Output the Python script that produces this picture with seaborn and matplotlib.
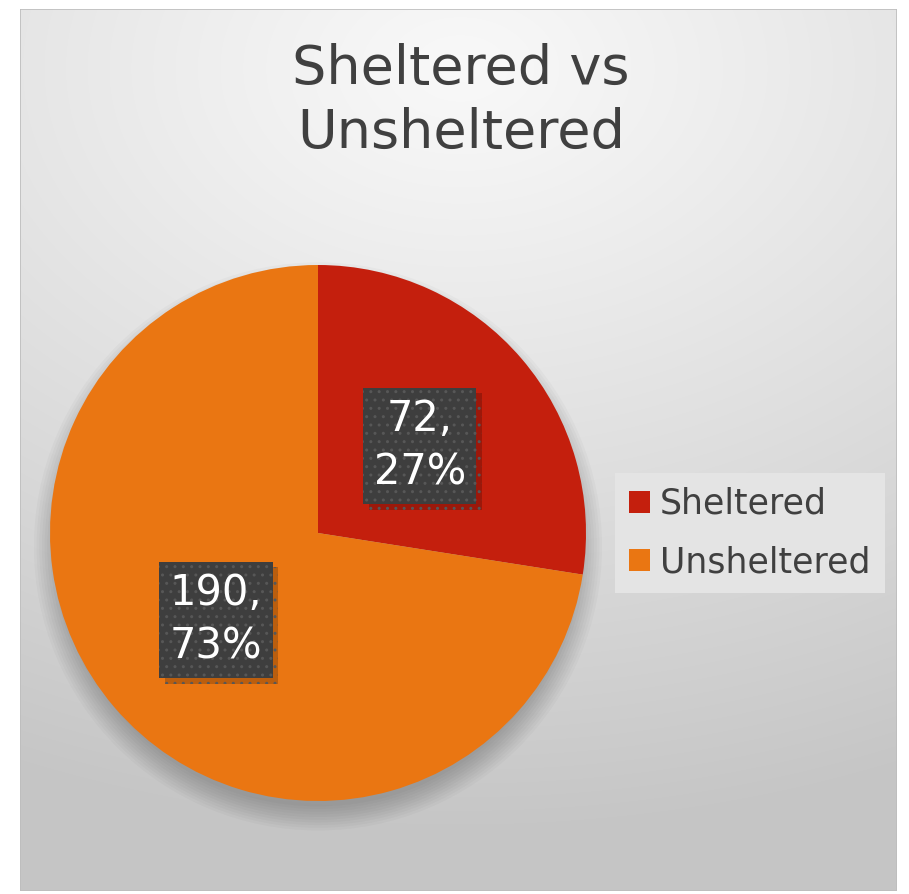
import numpy as np
import matplotlib
matplotlib.use('Agg')
import matplotlib.pyplot as plt
import matplotlib.patheffects as pe
from matplotlib.patches import Rectangle, Circle
import seaborn as sns

categories = ['Sheltered', 'Unsheltered']
counts = [72, 190]
colors = ['#C41F0D', '#EA7612']
title = 'Sheltered vs\nUnsheltered'

sns.set_theme(style='white')
plt.rcParams['font.family'] = ['DejaVu Sans']

W, H = 909, 894
fig = plt.figure(figsize=(W / 100, H / 100), dpi=100)
fig.patch.set_facecolor('white')

# chart frame with a soft radial gradient
x0, y0, x1, y1 = 20, 9, 897, 891
bg = fig.add_axes([x0 / W, 1 - y1 / H, (x1 - x0) / W, (y1 - y0) / H])
bg.set_axis_off()
yy, xx = np.mgrid[0:y1 - y0, 0:x1 - x0]
d = np.sqrt(((xx - 440) / 1150) ** 2 + ((yy - 60) / 800) ** 2)
shade = 0.975 - 0.2 * np.clip(d / 0.95, 0, 1) ** 1.1
bg.imshow(np.dstack([shade] * 3), aspect='auto', extent=[0, 1, 0, 1], zorder=0)
bg.add_patch(Rectangle((0, 0), 1, 1, transform=bg.transAxes, fill=False,
                       ec='#bdbdbd', lw=1.2))

fig.text(461 / W, 1 - 101 / H, title, ha='center', va='center',
         fontsize=39, color='#404040', linespacing=1.3)

# pie
cx, cy, r = 318, 533, 268
ax = fig.add_axes([(cx - r) / W, 1 - (cy + r) / H, 2 * r / W, 2 * r / H])
ax.set_axis_off()

# blurred shadow under pie, offset downwards
for k in range(10):
    ax.add_patch(Circle((0.0, -0.05), 0.97 + 0.01 * k, color='black',
                        alpha=0.022, lw=0, zorder=0, clip_on=False))

total = sum(counts)


def fmt(p):
    v = int(round(p * total / 100))
    return f'{v},\n{p:.0f}%'


wedges, texts, autotexts = ax.pie(counts, colors=colors, startangle=90,
                                  counterclock=False, autopct=fmt,
                                  pctdistance=0.5, radius=1.0,
                                  wedgeprops=dict(lw=0, zorder=2),
                                  textprops=dict(zorder=5))
ax.set_xlim(-1, 1)
ax.set_ylim(-1, 1)

for t in autotexts:
    t.set_color('white')
    t.set_fontsize(30)
    t.set_linespacing(1.35)
    t.set_bbox(dict(boxstyle='square,pad=0.25', fc='#3e3e3e', ec='#575757',
                    lw=0, hatch='..'))
    t.get_bbox_patch().set_path_effects([
        pe.SimplePatchShadow(offset=(4, -4), shadow_rgbFace='black', alpha=0.2),
        pe.Normal()])

leg = fig.legend(wedges, categories, loc='upper left',
                 bbox_to_anchor=(615 / W, 1 - 473 / H), frameon=True,
                 fontsize=25, labelcolor='#404040', handlelength=0.6,
                 handleheight=0.6, handletextpad=0.3, borderpad=0.4,
                 labelspacing=0.7, fancybox=False, borderaxespad=0)
leg.get_frame().set_facecolor('#e4e4e4')
leg.get_frame().set_edgecolor('none')
leg.get_frame().set_alpha(1)

fig.savefig('out.png', dpi=100)
